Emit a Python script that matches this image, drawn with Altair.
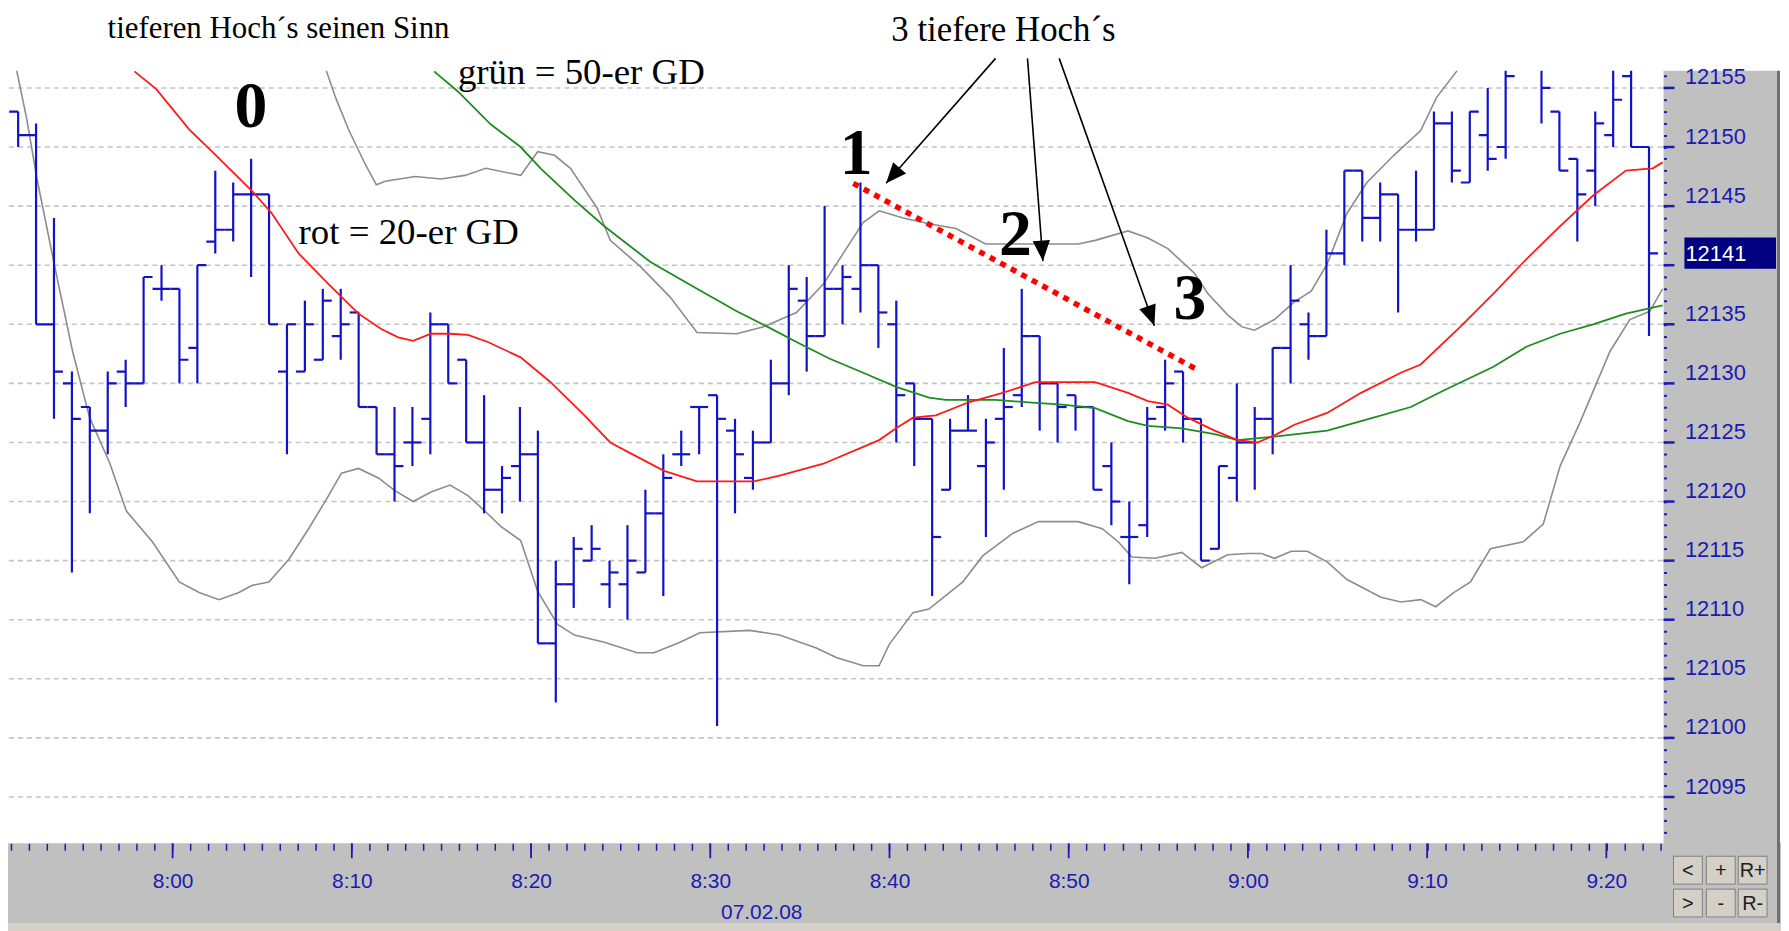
import json
import math
import altair as alt
import pandas as pd

# ---------------- data ----------------
FIRST_MINUTE = -9          # first bar = 7:51 (minutes relative to 8:00)
BAR_SHIFT = 0.38           # bars sit slightly right of their minute tick

OPEN = [12153, 12151, 12135, 12130, 12128, 12126, 12131, 12130, 12138,
        12138, 12133, 12142, 12143, 12146, 12146, 12131, 12131, 12132, 12134,
        12136, 12128, 12124, 12125, 12127, 12135, 12132, 12125, 12121, 12123,
        12124, 12108, 12113, 12115, 12113, 12113, 12114, 12119, 12124, 12128,
        12129, 12126, 12122, 12125, 12130, 12137, 12134, 12138, 12138, 12140,
        12135, 12130, 12127, 12121, 12126, 12123, 12127, 12129, 12134, 12130,
        12129, 12128, 12123, 12117, 12118, 12128, 12131, 12127, 12116, 12122,
        12125, 12127, 12133, 12135, 12134, 12141, 12148, 12144, 12146, 12143,
        12143, 12152, 12147, 12151, 12150, 12157, 12158, 12153, 12149, 12148,
        12151, 12156, 12150]
HIGH = [12153, 12152, 12144, 12131, 12128, 12131, 12132, 12139, 12140,
        12138, 12140, 12148, 12147, 12149, 12146, 12135, 12137, 12138, 12138,
        12136, 12128, 12128, 12128, 12136, 12135, 12132, 12129, 12123, 12128,
        12126, 12115, 12117, 12118, 12115, 12118, 12121, 12124, 12126, 12128,
        12129, 12127, 12126, 12132, 12140, 12139, 12145, 12140, 12147, 12140,
        12137, 12130, 12127, 12127, 12129, 12127, 12133, 12138, 12134, 12130,
        12129, 12128, 12125, 12120, 12128, 12132, 12131, 12127, 12123, 12130,
        12128, 12133, 12140, 12136, 12143, 12148, 12148, 12147, 12146, 12148,
        12153, 12153, 12153, 12155, 12158, 12160, 12159, 12153, 12149, 12153,
        12158, 12158, 12150]
LOW = [12150, 12135, 12127, 12114, 12119, 12124, 12128, 12130, 12137,
       12130, 12130, 12141, 12142, 12139, 12135, 12124, 12131, 12132, 12132,
       12128, 12124, 12120, 12123, 12124, 12130, 12125, 12119, 12119, 12120,
       12108, 12103, 12111, 12115, 12111, 12110, 12114, 12112, 12123, 12124,
       12101, 12119, 12121, 12125, 12129, 12131, 12134, 12135, 12136, 12133,
       12125, 12123, 12112, 12121, 12126, 12117, 12121, 12128, 12126, 12125,
       12126, 12121, 12118, 12113, 12117, 12126, 12125, 12115, 12116, 12120,
       12121, 12124, 12130, 12132, 12134, 12140, 12142, 12142, 12136, 12142,
       12143, 12147, 12147, 12148, 12149, 12157, 12152, 12148, 12142, 12145,
       12150, 12150, 12134]
CLOSE = [12151, 12135, 12131, 12127, 12126, 12130, 12130, 12139, 12138,
         12132, 12140, 12143, 12146, 12146, 12135, 12135, 12135, 12137, 12135,
         12128, 12124, 12123, 12125, 12135, 12130, 12125, 12121, 12122, 12124,
         12108, 12113, 12116, 12116, 12114, 12115, 12119, 12122, 12124, 12128,
         12127, 12124, 12125, 12130, 12138, 12134, 12138, 12139, 12140, 12136,
         12129, 12127, 12117, 12126, 12126, 12125, 12128, 12134, 12130, 12128,
         12128, 12121, 12120, 12117, 12127, 12130, 12127, 12115, 12123, 12125,
         12127, 12133, 12137, 12134, 12141, 12148, 12144, 12146, 12143, 12143,
         12152, 12148, 12153, 12149, 12156, 12158, 12155, 12148, 12146, 12152,
         12154, 12150, 12141]

# 20-er GD (red): minute offsets and values
MA20_T = [-2.13, -0.91, 0.92, 2.42, 4.42, 5.53, 7.03, 8.70, 10.37, 11.64,
          12.59, 13.42, 14.42, 15.48, 16.48, 17.59, 19.42, 21.09, 22.98, 24.42,
          25.53, 27.42, 29.26, 32.42, 33.87, 36.31, 39.42, 40.37, 41.31, 42.59,
          44.42, 46.31, 48.14, 51.48, 53.31, 54.42, 55.53, 56.64, 58.14, 59.42,
          60.53, 61.48, 62.59, 64.42, 66.31, 68.53, 69.64, 71.86, 73.7, 75.53,
          77.42, 79.26, 81.09, 82.59, 83.14]
MA20_V = [12156.4, 12154.9, 12151.5, 12149.3, 12146.3, 12144.4, 12141.0, 12138.4,
          12135.9, 12134.6, 12133.9, 12133.6, 12134.2, 12134.2, 12134.1, 12133.5,
          12132.2, 12130.1, 12127.3, 12125.0, 12124.1, 12122.6, 12121.7, 12121.7,
          12122.2, 12123.2, 12125.2, 12126.2, 12127.1, 12127.3, 12128.4, 12129.2,
          12130.1, 12130.1, 12129.2, 12128.5, 12128.2, 12127.1, 12126.0, 12125.2,
          12125.0, 12125.6, 12126.5, 12127.5, 12129.2, 12130.9, 12131.6, 12134.8,
          12137.6, 12140.5, 12143.3, 12145.9, 12148.0, 12148.2, 12148.7]

# 50-er GD (green)
MA50_T = [14.59, 15.92, 17.76, 19.42, 20.53, 22.42, 24.09, 26.64, 29.26, 31.48,
          33.31, 34.81, 36.64, 38.53, 40.37, 42.2, 43.14, 45.92, 47.76, 49.64,
          51.48, 53.31, 54.42, 56.31, 58.14, 59.42, 61.48, 64.42, 66.31, 69.09,
          70.92, 73.7, 75.53, 77.42, 79.26, 81.09, 83.14]
MA50_V = [12156.4, 12154.7, 12151.9, 12150.0, 12148.2, 12145.5, 12143.3, 12140.3,
          12138.0, 12136.1, 12134.7, 12133.5, 12132.1, 12130.9, 12129.7, 12128.8,
          12128.6, 12128.6, 12128.4, 12128.2, 12127.9, 12126.8, 12126.4, 12126.2,
          12125.7, 12125.2, 12125.5, 12126.0, 12126.8, 12128.0, 12129.4, 12131.4,
          12133.1, 12134.2, 12135.0, 12135.9, 12136.6]

# Bollinger bands (gray)
BB_UP_T = [8.14, 8.59, 9.09, 9.81, 10.76, 11.37, 11.87, 13.53, 14.98, 16.31,
           17.48, 19.42, 20.37, 21.31, 22.2, 23.7, 24.42, 26.09, 27.76, 29.26,
           31.48, 32.98, 34.81, 36.31, 37.59, 38.53, 39.42, 40.76, 42.2, 43.7,
           45.37, 47.76, 50.53, 51.48, 53.31, 54.42, 55.53, 57.03, 57.76, 58.87,
           59.64, 60.37, 61.48, 62.59, 63.53, 64.42, 65.53, 66.64, 68.14, 69.64,
           70.53, 71.64, 72.59]
BB_UP_V = [12160.0, 12156.4, 12154.2, 12151.5, 12148.5, 12146.8, 12147.1, 12147.5,
           12147.3, 12147.6, 12148.2, 12147.6, 12149.6, 12149.3, 12148.2, 12144.8,
           12142.1, 12139.9, 12137.3, 12134.3, 12134.2, 12134.8, 12136.0, 12138.4,
           12141.4, 12143.6, 12144.6, 12144.0, 12143.5, 12143.1, 12141.8, 12141.8,
           12141.8, 12142.1, 12142.9, 12142.3, 12141.4, 12139.3, 12137.6, 12135.8,
           12134.8, 12134.5, 12135.4, 12136.9, 12137.8, 12140.1, 12144.4, 12147.0,
           12149.3, 12151.4, 12154.2, 12156.4, 12159.0]
BB_LO_T = [-8.97, -8.69, -8.13, -7.58, -6.58, -5.58, -4.63, -3.52, -2.58, -1.13,
           0.37, 1.48, 2.59, 3.7, 4.42, 5.37, 6.48, 7.59, 8.7, 9.42,
           10.37, 11.48, 12.42, 13.42, 14.42, 15.48, 16.48, 17.42, 18.31, 19.42,
           20.37, 21.48, 22.42, 24.09, 25.92, 26.86, 28.31, 29.42, 32.2, 33.87,
           35.92, 37.03, 38.53, 39.42, 39.98, 41.31, 42.2, 44.09, 45.2, 46.87,
           48.31, 50.53, 51.87, 52.76, 53.53, 54.81, 56.31, 57.42, 58.87, 59.98,
           60.76, 61.48, 62.42, 63.31, 64.42, 65.53, 67.42, 68.53, 69.64, 70.48,
           71.48, 72.42, 73.53, 75.37, 76.48, 77.42, 78.53, 80.2, 81.31, 82.42,
           83.14]
BB_LO_V = [12159.0, 12156.4, 12152.3, 12147.4, 12139.9, 12132.7, 12127.1, 12123.3,
           12119.2, 12116.6,
           12113.2, 12112.3, 12111.7, 12112.3, 12112.9, 12113.2, 12115.1, 12117.7,
           12120.5, 12122.4,
           12122.8, 12122.0, 12120.9, 12120.0, 12120.8, 12121.4, 12120.5, 12119.2,
           12117.9, 12116.7,
           12112.4, 12109.6, 12108.7, 12108.1, 12107.2, 12107.2, 12108.1, 12108.9,
           12109.1, 12108.7,
           12107.6, 12106.8, 12106.1, 12106.1, 12107.9, 12110.6, 12110.9, 12113.2,
           12115.4, 12117.3,
           12118.3, 12118.3, 12117.7, 12116.6, 12115.3, 12115.2, 12115.7, 12114.4,
           12115.5, 12115.6,
           12115.6, 12115.2, 12115.8, 12115.8, 12114.9, 12113.4, 12111.9, 12111.5,
           12111.7, 12111.1,
           12112.3, 12113.2, 12116.0, 12116.6, 12118.1, 12123.0, 12126.7, 12132.7,
           12135.4, 12136.1,
           12138.0]

# annotations
TREND_T = [37.98, 57.31]
TREND_V = [12146.93, 12131.05]
ARROW_FROM_T = [45.92, 47.70, 49.47]
ARROW_FROM_V = [12157.5, 12157.5, 12157.5]
ARROW_TO_T = [39.81, 48.56, 54.78]
ARROW_TO_V = [12146.93, 12140.35, 12134.88]
NUM_TEXT = ["0", "1", "2", "3"]
NUM_T = [4.37, 38.14, 47.03, 56.76]
NUM_V = [12153.4, 12149.4, 12142.55, 12137.16]
NOTE_TEXT = ["grün = 50-er GD", "rot = 20-er GD"]
NOTE_T = [15.92, 7.03]
NOTE_V = [12155.35, 12141.79]
HEAD_TEXT = "3 tiefere Hoch´s"
HEAD_T, HEAD_V = 40.1, 12158.95
TOP_TEXT = "tieferen Hoch´s seinen Sinn"
TOP_T, TOP_V = -3.63, 12159.25

PRICE_GRID = list(range(12095, 12160, 5))
TIME_TICKS = list(range(-9, 84))
TIME_LABEL_MIN = [0, 10, 20, 30, 40, 50, 60, 70, 80]
TIME_LABELS = ["8:00", "8:10", "8:20", "8:30", "8:40", "8:50", "9:00", "9:10", "9:20"]
LAST_PRICE = 12141
DATE_LABEL = "07.02.08"
DATE_T = 32.87
BUTTONS = [["<", "+", "R+"], [">", "-", "R-"]]

# ---------------- layout / style ----------------
W, H = 1662, 776
X_DOMAIN = [-9.13, 83.19]
Y_DOMAIN = [12091.08, 12156.45]
PX_PER_MIN = W / (X_DOMAIN[1] - X_DOMAIN[0])
PX_PER_PT = H / (Y_DOMAIN[1] - Y_DOMAIN[0])

BLUE = "#1212C8"
AXIS_BLUE = "#1A1AB4"
PANEL = "#C0C0C0"
AX_FONT = "Liberation Sans Narrow, Arial Narrow, Liberation Sans, sans-serif"
SERIF = "Liberation Serif, Times New Roman, serif"

xs = alt.Scale(domain=X_DOMAIN, nice=False, zero=False)
ys = alt.Scale(domain=Y_DOMAIN, nice=False, zero=False)

label_expr_x = ("indexof(" + json.dumps(TIME_LABEL_MIN) + ", datum.value) >= 0 ? "
                + json.dumps(TIME_LABELS) + "[indexof(" + json.dumps(TIME_LABEL_MIN)
                + ", datum.value)] : ''")
label_expr_y = ("datum.value % 5 === 0 && datum.value !== " + str(LAST_PRICE - 1)
                + " ? datum.label : ''")

XAX = alt.Axis(orient="bottom", values=TIME_TICKS, tickSize=7, tickWidth=1.5,
               tickColor=AXIS_BLUE, labelExpr=label_expr_x, labelFont=AX_FONT,
               labelFontSize=21, labelColor=AXIS_BLUE, labelPadding=31,
               labelBaseline="middle", labelAlign="center", labelOverlap=False,
               labelFlush=False, labelBound=False, domain=False, grid=False,
               title=None, zindex=1)
YAX = alt.Axis(orient="right", values=list(range(12092, 12157)), tickSize=3,
               tickWidth=2, tickColor=AXIS_BLUE, format="d",
               labelExpr=label_expr_y,
               labelFont=AX_FONT, labelFontSize=22, labelColor=AXIS_BLUE,
               labelPadding=18, labelOffset=-4, labelBaseline="alphabetic",
               labelAlign="left", labelOverlap=False, labelBound=False,
               domain=False, grid=False, title=None, zindex=1)


def X(f):
    return alt.X(f, type="quantitative", scale=xs, axis=XAX)


def Y(f):
    return alt.Y(f, type="quantitative", scale=ys, axis=YAX)


one = pd.DataFrame({"a": [0]})
layers = []


def panel(x1, x2, y1, y2, color, stroke=None):
    kw = {"color": color}
    if stroke:
        kw.update(stroke=stroke, strokeWidth=1)
    return alt.Chart(one).mark_rect(**kw).encode(
        x=alt.value(x1), x2=alt.value(x2), y=alt.value(y1), y2=alt.value(y2))


# background panels (bottom time strip, right price strip)
layers.append(panel(-1, 1781, H, H + 80, PANEL))
layers.append(panel(-1, 1781, H + 80, H + 90, "#D4D0C8"))
layers.append(panel(W, 1776, 0, H + 80, PANEL))
layers.append(panel(1776, 1779, 0, H + 80, "#707070"))

# dashed horizontal grid
grid_df = pd.DataFrame({"p": PRICE_GRID})
layers.append(alt.Chart(grid_df).mark_rule(color="#C4C4C4", strokeWidth=1.6,
                                           strokeDash=[5, 4]).encode(
    y=Y("p"), x=alt.value(0), x2=alt.value(W)))

# major ticks on right and bottom axes
layers.append(alt.Chart(grid_df).mark_rule(color=AXIS_BLUE, strokeWidth=2.5).encode(
    y=Y("p"), x=alt.value(W), x2=alt.value(W + 11)))
maj_df = pd.DataFrame({"m": TIME_LABEL_MIN})
layers.append(alt.Chart(maj_df).mark_rule(color=AXIS_BLUE, strokeWidth=1.8).encode(
    x=X("m"), y=alt.value(H), y2=alt.value(H + 15)))


# Bollinger bands and moving averages
def line(ts, vs, color, width):
    df = pd.DataFrame({"t": ts, "v": vs})
    return alt.Chart(df).mark_line(color=color, strokeWidth=width, clip=True,
                                   interpolate="linear").encode(
        x=X("t"), y=Y("v"), order="t:Q")


layers.append(line(BB_UP_T, BB_UP_V, "#8C8C8C", 1.6))
layers.append(line(BB_LO_T, BB_LO_V, "#8C8C8C", 1.6))

# OHLC bars
n = len(OPEN)
bars = pd.DataFrame({
    "t": [FIRST_MINUTE + i + BAR_SHIFT for i in range(n)],
    "o": OPEN, "h": HIGH, "l": LOW, "c": CLOSE,
})
base = alt.Chart(bars).transform_calculate(
    tl="datum.t - 0.5", tr="datum.t + 0.5")
layers.append(base.mark_rule(color=BLUE, strokeWidth=2.2, clip=True).encode(
    x=X("t"), y=Y("l"), y2="h:Q"))
layers.append(base.mark_rule(color=BLUE, strokeWidth=2.2, clip=True).encode(
    x=X("tl"), x2="t:Q", y=Y("o")))
layers.append(base.mark_rule(color=BLUE, strokeWidth=2.2, clip=True).encode(
    x=X("t"), x2="tr:Q", y=Y("c")))

layers.append(line(MA50_T, MA50_V, "#1E8C1E", 1.8))
layers.append(line(MA20_T, MA20_V, "#FF1A1A", 1.8))

# red dotted trend line
trend = pd.DataFrame({"t": TREND_T, "v": TREND_V})
layers.append(alt.Chart(trend).mark_line(color="#FF0000", strokeWidth=5.5,
                                         strokeDash=[6, 6], strokeCap="butt").encode(
    x=X("t"), y=Y("v")))

# arrows
arr = pd.DataFrame({"t1": ARROW_FROM_T, "v1": ARROW_FROM_V,
                    "t2": ARROW_TO_T, "v2": ARROW_TO_V})
layers.append(alt.Chart(arr).mark_rule(color="black", strokeWidth=1.6).encode(
    x=X("t1"), y=Y("v1"), x2="t2:Q", y2="v2:Q"))
HEAD = "M0,0L0.42,1L-0.42,1Z"
for t1, v1, t2, v2 in zip(ARROW_FROM_T, ARROW_FROM_V, ARROW_TO_T, ARROW_TO_V):
    dx = (t2 - t1) * PX_PER_MIN
    dy = -(v2 - v1) * PX_PER_PT
    ang = (math.degrees(math.atan2(dx, -dy)) + 360) % 360
    tip = pd.DataFrame({"t": [t2], "v": [v2]})
    layers.append(alt.Chart(tip).mark_point(shape=HEAD, size=1700, filled=True,
                                            color="black", opacity=1,
                                            angle=ang).encode(
        x=X("t"), y=Y("v")))

# annotation texts
nums = pd.DataFrame({"t": NUM_T, "v": NUM_V, "s": NUM_TEXT})
layers.append(alt.Chart(nums).mark_text(font=SERIF, fontSize=66, fontWeight="bold",
                                        color="black", align="center",
                                        baseline="middle").encode(
    x=X("t"), y=Y("v"), text="s:N"))
notes = pd.DataFrame({"t": NOTE_T, "v": NOTE_V, "s": NOTE_TEXT})
layers.append(alt.Chart(notes).mark_text(font=SERIF, fontSize=37, color="black",
                                         align="left", baseline="alphabetic").encode(
    x=X("t"), y=Y("v"), text="s:N"))
head = pd.DataFrame({"t": [HEAD_T], "v": [HEAD_V], "s": [HEAD_TEXT]})
layers.append(alt.Chart(head).mark_text(font=SERIF, fontSize=35, color="black",
                                        align="left", baseline="alphabetic").encode(
    x=X("t"), y=Y("v"), text="s:N"))
top = pd.DataFrame({"t": [TOP_T], "v": [TOP_V], "s": [TOP_TEXT]})
layers.append(alt.Chart(top).mark_text(font=SERIF, fontSize=31, color="black",
                                       align="left", baseline="alphabetic").encode(
    x=X("t"), y=Y("v"), text="s:N"))

# last price box
lp = pd.DataFrame({"v1": [LAST_PRICE - 1.3], "v2": [LAST_PRICE + 1.35],
                   "v": [LAST_PRICE], "s": [str(LAST_PRICE)]})
layers.append(alt.Chart(lp).mark_rect(color="#000080").encode(
    y=Y("v1"), y2="v2:Q", x=alt.value(1683), x2=alt.value(1775)))
layers.append(alt.Chart(lp).mark_text(font=AX_FONT, fontSize=22, color="white",
                                      align="left", baseline="middle", dy=1).encode(
    y=Y("v"), x=alt.value(1684), text="s:N"))

# date under the time axis
date_df = pd.DataFrame({"t": [DATE_T], "s": [DATE_LABEL]})
layers.append(alt.Chart(date_df).mark_text(font=AX_FONT, fontSize=21, color=AXIS_BLUE,
                                           align="center", baseline="middle").encode(
    x=X("t"), y=alt.value(H + 70), text="s:N"))

# scroll / zoom buttons
BX = [1672, 1705, 1737]
BY = [789, 822]
for r, row in enumerate(BUTTONS):
    for c, lab in enumerate(row):
        layers.append(panel(BX[c], BX[c] + 29, BY[r], BY[r] + 28, "#D4D0C8", "#808080"))
        layers.append(alt.Chart(one).mark_text(text=lab, font=AX_FONT, fontSize=20,
                                               color="#202020", align="center",
                                               baseline="middle").encode(
            x=alt.value(BX[c] + 14.5), y=alt.value(BY[r] + 15)))

chart = alt.layer(*layers).properties(
    width=W, height=H,
    autosize=alt.AutoSizeParams(type="none"),
    padding={"left": 1, "top": 61, "right": 118, "bottom": 86},
    background="white",
).configure_view(stroke=None)

chart.save("out.html", embed_options={"renderer": "svg", "actions": False})
